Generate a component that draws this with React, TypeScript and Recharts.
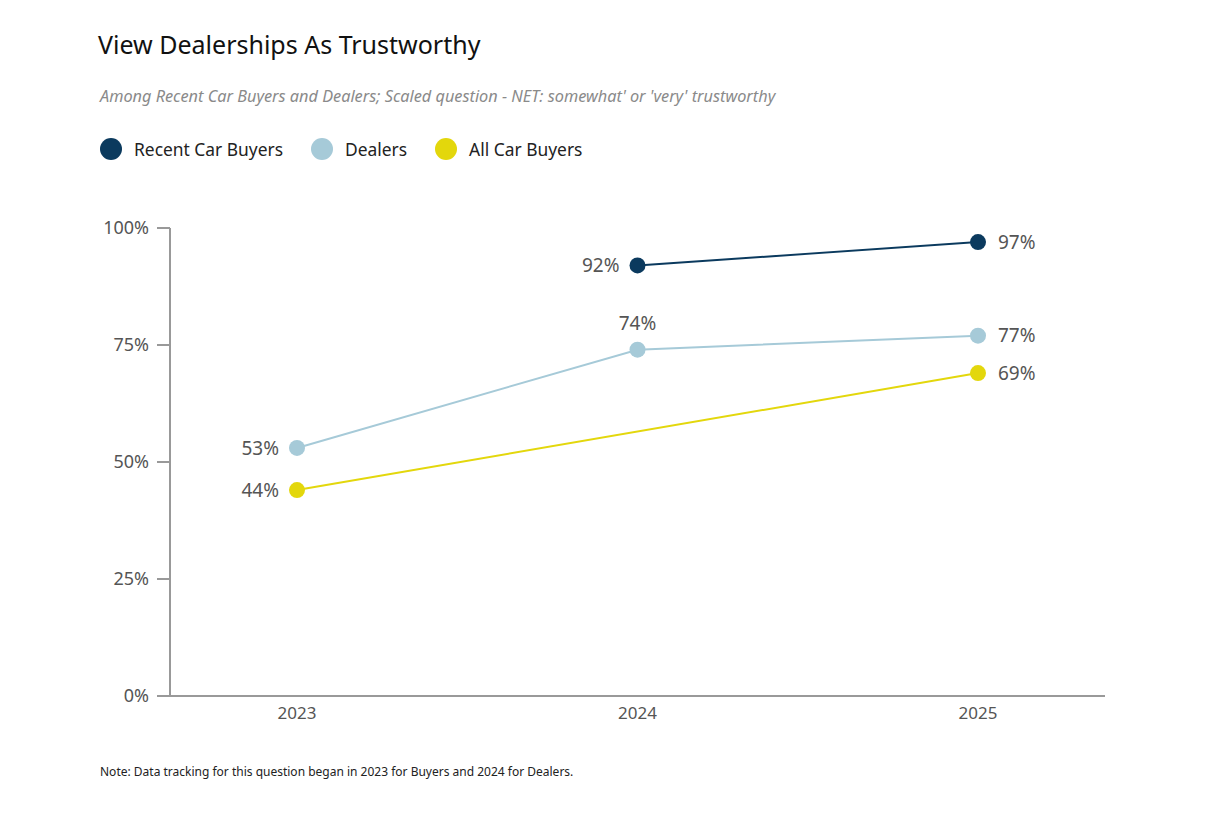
import React from "react";
import { LineChart, Line, XAxis, YAxis, LabelList } from "recharts";

const years = ["2023", "2024", "2025"];
const recentCarBuyers: (number | null)[] = [null, 92, 97];
const dealers: (number | null)[] = [53, 74, 77];
const allCarBuyers: (number | null)[] = [44, null, 69];
const yTicks = [0, 25, 50, 75, 100];

const series = [
  { key: "recent", name: "Recent Car Buyers", values: recentCarBuyers, color: "#0b3a5e" },
  { key: "dealers", name: "Dealers", values: dealers, color: "#a6cad8" },
  { key: "all", name: "All Car Buyers", values: allCarBuyers, color: "#e3d70c" },
];

const data = years.map((y, i) => ({
  year: y,
  recent: recentCarBuyers[i],
  dealers: dealers[i],
  all: allCarBuyers[i],
}));

const FONT = "'Noto Sans', 'Open Sans', sans-serif";

function makeLabel(values: (number | null)[]) {
  const firstIdx = values.findIndex((v) => v != null);
  return (props: any) => {
    const { x, y, value, index } = props;
    if (value == null) return null;
    let tx = x, ty = y, anchor: "start" | "middle" | "end" = "middle";
    if (index === values.length - 1) {
      tx = x + 20; anchor = "start";
    } else if (index === firstIdx) {
      tx = x - 18; anchor = "end";
    } else {
      ty = y - 27;
    }
    return (
      <text x={tx} y={ty} dy="0.36em" textAnchor={anchor} fill="#555" fontSize={19} fontFamily={FONT}>
        {value}%
      </text>
    );
  };
}

export default function App() {
  return (
    <div style={{ position: "absolute", left: 0, top: 0, width: 1228, height: 820, background: "#fff", fontFamily: FONT }}>
      <div style={{ position: "absolute", left: 98, top: 27, fontSize: 25, color: "#111", whiteSpace: "nowrap" }}>
        View Dealerships As Trustworthy
      </div>
      <div style={{ position: "absolute", left: 100, top: 85, fontSize: 16.3, color: "#8a8a8a", fontStyle: "italic", whiteSpace: "nowrap" }}>
        Among Recent Car Buyers and Dealers; Scaled question - NET: somewhat' or 'very' trustworthy
      </div>
      <div style={{ position: "absolute", left: 100, top: 137, display: "flex", alignItems: "center", whiteSpace: "nowrap" }}>
        {series.map((s) => (
          <div key={s.key} style={{ display: "flex", alignItems: "center", marginRight: 28 }}>
            <div style={{ width: 22, height: 22, borderRadius: 11, background: s.color, marginRight: 12 }} />
            <span style={{ fontSize: 17.4, color: "#222" }}>{s.name}</span>
          </div>
        ))}
      </div>
      <div style={{ position: "absolute", left: 0, top: 0 }}>
        <LineChart width={1228} height={820} data={data} margin={{ top: 228, left: 110, right: 123, bottom: 94 }}>
          <XAxis
            dataKey="year"
            padding={{ left: 127, right: 127 }}
            tickLine={false}
            tickSize={0}
            tickMargin={11}
            axisLine={{ stroke: "#999", strokeWidth: 2 }}
            tick={{ fill: "#555", fontSize: 17, fontFamily: FONT }}
            height={30}
          />
          <YAxis
            domain={[0, 100]}
            ticks={yTicks}
            tickFormatter={(v) => `${v}%`}
            width={60}
            tickSize={13}
            tickMargin={8}
            axisLine={{ stroke: "#999", strokeWidth: 2 }}
            tickLine={{ stroke: "#999", strokeWidth: 2 }}
            tick={{ fill: "#555", fontSize: 18, fontFamily: FONT }}
            interval={0}
          />
          {series.map((s) => (
            <Line
              key={s.key}
              dataKey={s.key}
              name={s.name}
              stroke={s.color}
              strokeWidth={2}
              dot={{ r: 8, fill: s.color, stroke: s.color, strokeWidth: 0 }}
              activeDot={false}
              connectNulls
              isAnimationActive={false}
            >
              <LabelList dataKey={s.key} content={makeLabel(s.values)} />
            </Line>
          ))}
        </LineChart>
      </div>
      <div style={{ position: "absolute", left: 100, top: 763, fontSize: 12, color: "#222", whiteSpace: "nowrap" }}>
        Note: Data tracking for this question began in 2023 for Buyers and 2024 for Dealers.
      </div>
    </div>
  );
}
